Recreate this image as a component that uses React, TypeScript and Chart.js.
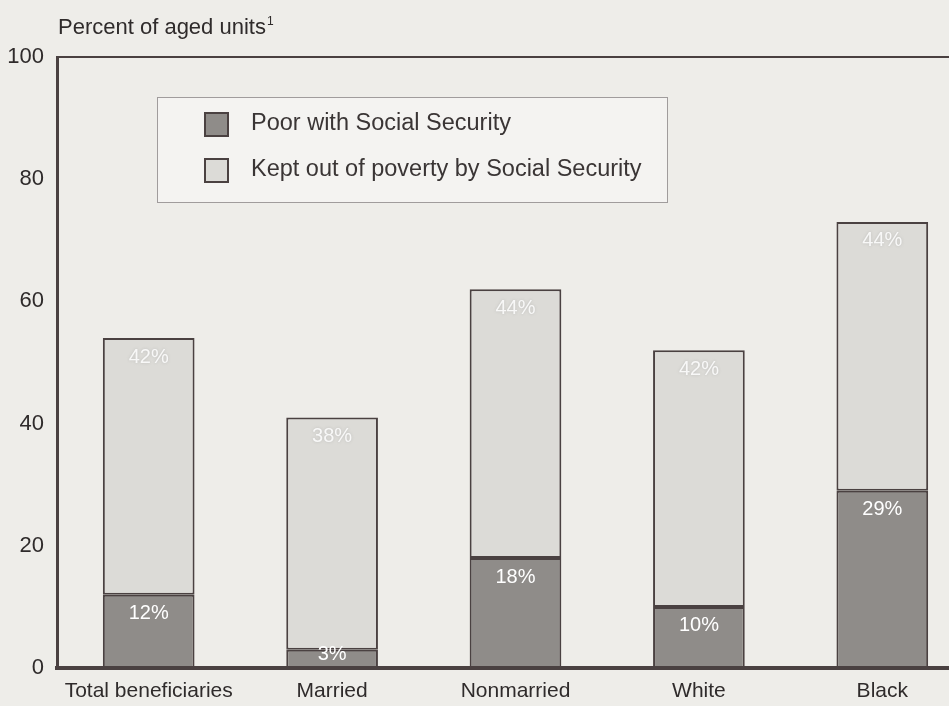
import React, { useEffect, useRef } from "react";
import { Chart, registerables } from "chart.js";

Chart.register(...registerables);

const categories = ["Total beneficiaries", "Married", "Nonmarried", "White", "Black"];
const poorWithSS = [12, 3, 18, 10, 29];
const keptOutBySS = [42, 38, 44, 42, 44];
const seriesNames = ["Poor with Social Security", "Kept out of poverty by Social Security"];
const yTicks = [0, 20, 40, 60, 80, 100];
const axisTitle = "Percent of aged units";

const BG = "#eeede9";
const INK = "#4a4141";
const DARK_FILL = "#8f8c89";
const LIGHT_FILL = "#dcdbd7";
const FONT = "'Liberation Sans', Arial, sans-serif";

// Page background, frame line at the top of the plot and the title above it
const framePlugin = {
  id: "frame",
  beforeDraw(chart: any) {
    const { ctx } = chart;
    ctx.save();
    ctx.fillStyle = BG;
    ctx.fillRect(0, 0, chart.width, chart.height);
    ctx.restore();
  },
  afterDraw(chart: any) {
    const { ctx, chartArea } = chart;
    ctx.save();
    ctx.strokeStyle = INK;
    ctx.lineWidth = 2;
    ctx.beginPath();
    ctx.moveTo(chartArea.left, chartArea.top);
    ctx.lineTo(chartArea.right + 30, chartArea.top);
    ctx.stroke();

    ctx.fillStyle = "#2f2b2b";
    ctx.font = `22px ${FONT}`;
    ctx.textBaseline = "alphabetic";
    ctx.textAlign = "left";
    ctx.fillText(axisTitle, 58, 34);
    const w = ctx.measureText(axisTitle).width;
    ctx.font = `12px ${FONT}`;
    ctx.fillText("1", 58 + w + 1, 25);
    ctx.restore();
  },
};

// Percentage labels written inside each bar segment
const segmentLabels = {
  id: "segmentLabels",
  afterDatasetsDraw(chart: any) {
    const { ctx } = chart;
    ctx.save();
    ctx.font = `20px ${FONT}`;
    ctx.textAlign = "center";
    ctx.textBaseline = "middle";
    chart.data.datasets.forEach((ds: any, di: number) => {
      const meta = chart.getDatasetMeta(di);
      meta.data.forEach((bar: any, i: number) => {
        const v = ds.data[i];
        if (di === 1) {
          ctx.fillStyle = "rgba(255,255,255,0.85)";
          ctx.shadowColor = "rgba(150,150,150,0.5)";
          ctx.shadowBlur = 3;
        } else {
          ctx.fillStyle = "#ffffff";
          ctx.shadowColor = "transparent";
          ctx.shadowBlur = 0;
        }
        const y = Math.min(bar.y + 19, bar.base - 14);
        ctx.fillText(`${v}%`, bar.x, y);
      });
    });
    ctx.restore();
  },
};

// Boxed legend inside the plot area
const boxedLegend = {
  id: "boxedLegend",
  afterDraw(chart: any) {
    const { ctx } = chart;
    const x = 157, y = 97, w = 510, h = 105;
    ctx.save();
    ctx.fillStyle = "#f4f3f1";
    ctx.fillRect(x, y, w, h);
    ctx.strokeStyle = "#a09c9c";
    ctx.lineWidth = 1;
    ctx.strokeRect(x + 0.5, y + 0.5, w, h);
    ctx.font = `23.5px ${FONT}`;
    ctx.textAlign = "left";
    ctx.textBaseline = "middle";
    chart.data.datasets.forEach((ds: any, i: number) => {
      const cy = 124 + i * 46;
      ctx.fillStyle = ds.backgroundColor;
      ctx.fillRect(205, cy - 11, 23, 23);
      ctx.strokeStyle = INK;
      ctx.lineWidth = 2;
      ctx.strokeRect(205, cy - 11, 23, 23);
      ctx.fillStyle = "#3a3535";
      ctx.fillText(ds.label, 251, cy);
    });
    ctx.restore();
  },
};

export default function App() {
  const ref = useRef<HTMLCanvasElement>(null);

  useEffect(() => {
    if (!ref.current) return;
    const chart = new Chart(ref.current, {
      type: "bar",
      data: {
        labels: categories,
        datasets: [
          {
            label: seriesNames[0],
            data: poorWithSS,
            backgroundColor: DARK_FILL,
            borderColor: INK,
            borderWidth: 2,
            borderSkipped: false,
            categoryPercentage: 1,
            barPercentage: 0.5,
          },
          {
            label: seriesNames[1],
            data: keptOutBySS,
            backgroundColor: LIGHT_FILL,
            borderColor: INK,
            borderWidth: 2,
            borderSkipped: false,
            categoryPercentage: 1,
            barPercentage: 0.5,
          },
        ],
      },
      options: {
        animation: false,
        responsive: false,
        layout: { padding: { left: 0, top: 57, right: 26, bottom: 0 } },
        plugins: { legend: { display: false }, tooltip: { enabled: false } },
        scales: {
          x: {
            stacked: true,
            grid: { display: false },
            border: { display: true, color: INK, width: 4 },
            ticks: {
              color: "#2f2b2b",
              font: { family: FONT, size: 21 },
              padding: 3,
              maxRotation: 0,
              autoSkip: false,
            },
            afterFit(scale: any) {
              scale.height = 38;
            },
          },
          y: {
            stacked: true,
            min: 0,
            max: 100,
            grid: { display: false },
            border: { display: true, color: INK, width: 3 },
            afterBuildTicks(scale: any) {
              scale.ticks = yTicks.map((v) => ({ value: v }));
            },
            ticks: {
              color: "#2f2b2b",
              font: { family: FONT, size: 22 },
              padding: 5,
            },
            afterFit(scale: any) {
              scale.width = 57;
            },
          },
        },
      },
      plugins: [framePlugin, segmentLabels, boxedLegend],
    });
    return () => chart.destroy();
  }, []);

  return (
    <div
      style={{
        position: "fixed",
        left: 0,
        top: 0,
        width: 949,
        height: 706,
        overflow: "hidden",
        background: BG,
      }}
    >
      <canvas ref={ref} width={1000} height={706} style={{ display: "block" }} />
    </div>
  );
}
